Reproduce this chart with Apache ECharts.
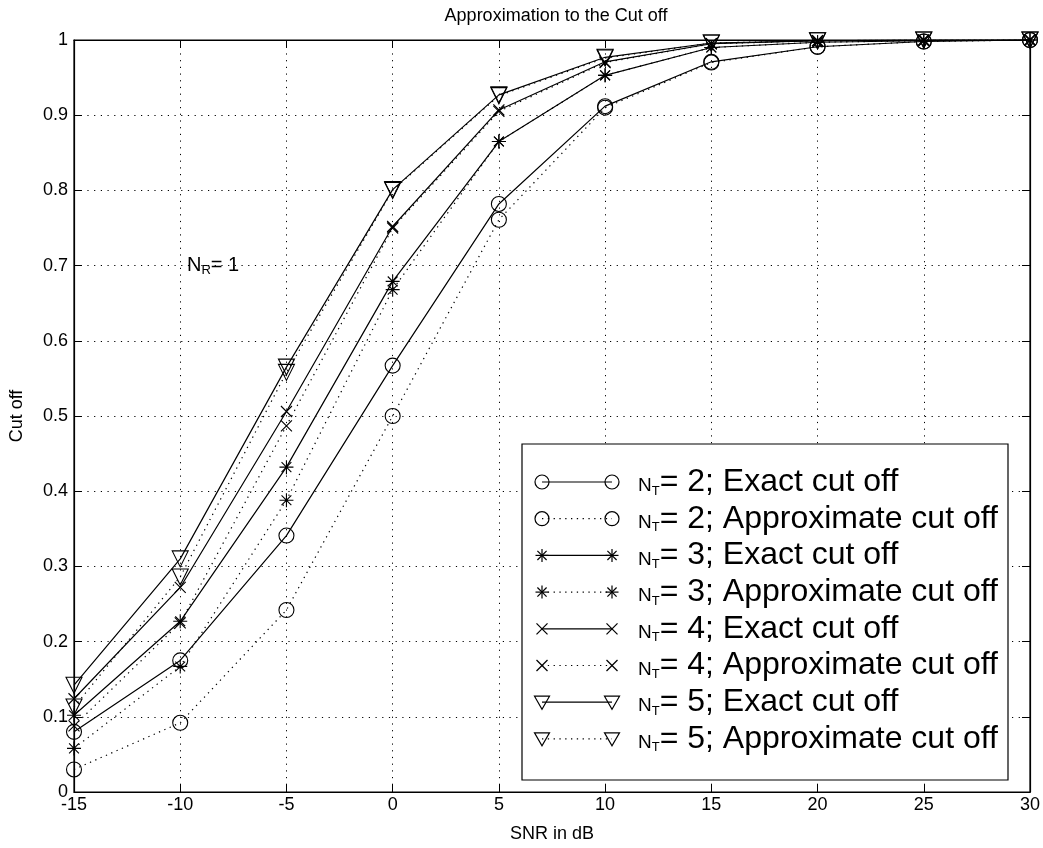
<!DOCTYPE html>
<html><head><meta charset="utf-8">
<script src="https://cdn.jsdelivr.net/npm/echarts@6/dist/echarts.min.js"></script>
<style>html,body{margin:0;padding:0;background:#fff}#c{width:1043px;height:848px}</style>
</head><body><div id="c"></div>
<script>
const snr = [-15, -10, -5, 0, 5, 10, 15, 20, 25, 30];
const nt2Exact  = [0.080, 0.175, 0.341, 0.567, 0.782, 0.912, 0.971, 0.991, 0.998, 1.000];
const nt2Approx = [0.030, 0.092, 0.242, 0.500, 0.761, 0.910, 0.970, 0.991, 0.998, 1.000];
const nt3Exact  = [0.102, 0.227, 0.432, 0.679, 0.865, 0.953, 0.990, 0.997, 0.999, 1.000];
const nt3Approx = [0.058, 0.167, 0.388, 0.668, 0.865, 0.953, 0.990, 0.997, 0.999, 1.000];
const nt4Exact  = [0.124, 0.272, 0.506, 0.752, 0.907, 0.971, 0.995, 0.999, 1.000, 1.000];
const nt4Approx = [0.088, 0.225, 0.487, 0.750, 0.905, 0.970, 0.995, 0.999, 1.000, 1.000];
const nt5Exact  = [0.142, 0.310, 0.565, 0.801, 0.927, 0.977, 0.996, 0.999, 1.000, 1.000];
const nt5Approx = [0.113, 0.286, 0.558, 0.800, 0.926, 0.976, 0.996, 0.999, 1.000, 1.000];
const xTicks = [-15, -10, -5, 0, 5, 10, 15, 20, 25, 30];
const yTicks = [0, 0.1, 0.2, 0.3, 0.4, 0.5, 0.6, 0.7, 0.8, 0.9, 1];
const ntValues = [2, 2, 3, 3, 4, 4, 5, 5];
const kinds = ['Exact cut off', 'Approximate cut off', 'Exact cut off', 'Approximate cut off',
               'Exact cut off', 'Approximate cut off', 'Exact cut off', 'Approximate cut off'];

const FONT = '"Liberation Sans", Arial, Helvetica, sans-serif';
const SYM = {
  circle: 'circle',
  star: 'path://M5,0L5,10M0,5L10,5M1.5,1.5L8.5,8.5M8.5,1.5L1.5,8.5',
  cross: 'path://M0,0L10,10M10,0L0,10',
  tri: 'path://M0,0L10,0L5,9Z'
};
const allData = [nt2Exact, nt2Approx, nt3Exact, nt3Approx, nt4Exact, nt4Approx, nt5Exact, nt5Approx];
const symKeys = ['circle', 'circle', 'star', 'star', 'cross', 'cross', 'tri', 'tri'];
const symSizes = [15, 15, 14, 14, 11, 11, 16, 16];

const series = allData.map((arr, k) => ({
  name: 'N' + ntValues[k] + ' ' + kinds[k],
  type: 'line',
  data: snr.map((x, i) => [x, arr[i]]),
  symbol: SYM[symKeys[k]],
  symbolSize: symSizes[k],
  showSymbol: true,
  showAllSymbol: true,
  animation: false,
  itemStyle: {color: 'rgba(0,0,0,0)', borderColor: '#000', borderWidth: 1.1},
  lineStyle: {color: '#000', width: 1.2, type: (k % 2) ? [1.3, 4.5] : 'solid'},
  emphasis: {disabled: true},
  z: 3
}));

// Hand-built legend (Matlab style: marker at both ends of the sample line)
const LG = {left: 522, top: 444, right: 1008, bottom: 780, row0: 482, rowGap: 36.7, x1: 542, x2: 612, textX: 638};
function seg(x1, y1, x2, y2) {
  return {type: 'line', shape: {x1: x1, y1: y1, x2: x2, y2: y2}, style: {stroke: '#000', lineWidth: 1.2}, z: 101};
}
function markerGraphic(kind, cx, cy) {
  const st = {fill: 'none', stroke: '#000', lineWidth: 1.2};
  if (kind === 'circle') return [{type: 'circle', shape: {cx: cx, cy: cy, r: 7}, style: st, z: 101}];
  if (kind === 'star') {
    const r = 6.5, d = 4.6;
    return [seg(cx, cy - r, cx, cy + r), seg(cx - r, cy, cx + r, cy),
            seg(cx - d, cy - d, cx + d, cy + d), seg(cx + d, cy - d, cx - d, cy + d)];
  }
  if (kind === 'cross') {
    const d = 5.5;
    return [seg(cx - d, cy - d, cx + d, cy + d), seg(cx + d, cy - d, cx - d, cy + d)];
  }
  return [{type: 'polygon', shape: {points: [[cx - 7.5, cy - 6], [cx + 7.5, cy - 6], [cx, cy + 7]]}, style: st, z: 101}];
}
let legendEls = [{
  type: 'rect', shape: {x: LG.left, y: LG.top, width: LG.right - LG.left, height: LG.bottom - LG.top},
  style: {fill: '#fff', stroke: '#000', lineWidth: 1.2}, z: 100
}];
kinds.forEach((kind, k) => {
  const cy = LG.row0 + k * LG.rowGap;
  legendEls.push({type: 'line', shape: {x1: LG.x1, y1: cy, x2: LG.x2, y2: cy},
    style: {stroke: '#000', lineWidth: 1.2, lineDash: (k % 2) ? [1.3, 4.5] : null}, z: 101});
  legendEls = legendEls.concat(markerGraphic(symKeys[k], LG.x1, cy), markerGraphic(symKeys[k], LG.x2, cy));
  legendEls.push({type: 'text', x: LG.textX, y: cy, z: 101,
    style: {
      text: '{n|N}{s|T}{b|= ' + ntValues[k] + '; ' + kind + '}',
      verticalAlign: 'middle',
      rich: {
        n: {fontFamily: FONT, fontSize: 19, fill: '#000', padding: [8, 0, 0, 0]},
        s: {fontFamily: FONT, fontSize: 13, fill: '#000', padding: [18, 0, 0, 0]},
        b: {fontFamily: FONT, fontSize: 32, fill: '#000'}
      }
    }});
});

const chart = echarts.init(document.getElementById('c'), null, {renderer: 'canvas'});
chart.setOption({
  backgroundColor: '#fff',
  animation: false,
  title: {
    text: 'Approximation to the Cut off', left: 551, top: 2, textAlign: 'center',
    textStyle: {fontFamily: FONT, fontSize: 18, fontWeight: 'normal', color: '#000'}
  },
  grid: {left: 70, right: 13, top: 40, bottom: 55, show: true, borderColor: '#000', borderWidth: 1.2, backgroundColor: 'transparent'},
  xAxis: [{
    type: 'value', min: -15, max: 30, interval: 5, position: 'bottom',
    name: 'SNR in dB', nameLocation: 'middle', nameGap: 33,
    nameTextStyle: {fontFamily: FONT, fontSize: 18, color: '#000'},
    axisLine: {show: true, onZero: false, lineStyle: {color: '#000', width: 1.2}},
    axisTick: {show: true, inside: true, length: 8, lineStyle: {color: '#000'}},
    axisLabel: {fontFamily: FONT, fontSize: 18, color: '#000', margin: 4,
      formatter: v => xTicks.indexOf(v) >= 0 ? String(v) : ''},
    splitLine: {show: true, lineStyle: {color: '#000', width: 1, type: [1.2, 5.5]}}
  }, {
    type: 'value', min: -15, max: 30, interval: 5, position: 'top',
    axisLine: {show: true, onZero: false, lineStyle: {color: '#000', width: 1.2}},
    axisTick: {show: true, inside: true, length: 8, lineStyle: {color: '#000'}},
    axisLabel: {show: false}, splitLine: {show: false}
  }],
  yAxis: [{
    type: 'value', min: 0, max: 1, interval: 0.1, position: 'left',
    name: 'Cut off', nameLocation: 'middle', nameGap: 48, nameRotate: 90,
    nameTextStyle: {fontFamily: FONT, fontSize: 18, color: '#000'},
    axisLine: {show: true, onZero: false, lineStyle: {color: '#000', width: 1.2}},
    axisTick: {show: true, inside: true, length: 8, lineStyle: {color: '#000'}},
    axisLabel: {fontFamily: FONT, fontSize: 18, color: '#000', margin: 6,
      formatter: v => { const r = Math.round(v * 10) / 10; return yTicks.indexOf(r) >= 0 ? String(r) : ''; }},
    splitLine: {show: true, lineStyle: {color: '#000', width: 1, type: [1.2, 5.5]}}
  }, {
    type: 'value', min: 0, max: 1, interval: 0.1, position: 'right',
    axisLine: {show: true, onZero: false, lineStyle: {color: '#000', width: 1.2}},
    axisTick: {show: true, inside: true, length: 8, lineStyle: {color: '#000'}},
    axisLabel: {show: false}, splitLine: {show: false}
  }],
  legend: {show: false},
  graphic: [{
    type: 'text', left: 187, top: 255, z: 10,
    style: {
      text: '{n|N}{s|R}{n|= 1}',
      rich: {
        n: {fontFamily: FONT, fontSize: 20, fill: '#000'},
        s: {fontFamily: FONT, fontSize: 13, fill: '#000', padding: [10, 0, 0, 0]}
      }
    }
  }].concat(legendEls),
  series: series
});
</script></body></html>
